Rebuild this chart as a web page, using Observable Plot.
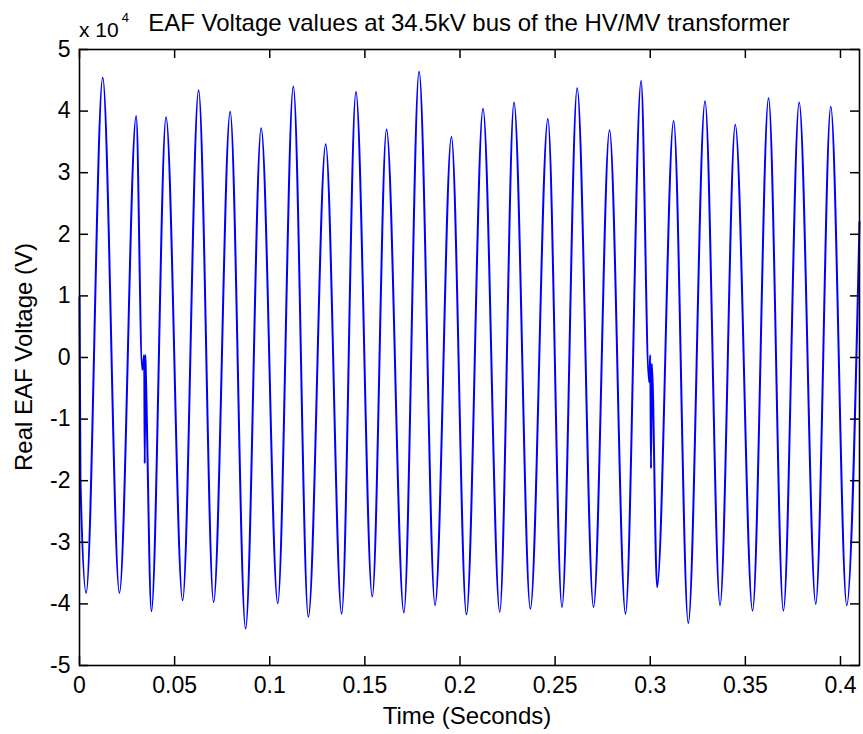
<!DOCTYPE html>
<html>
<head>
<meta charset="utf-8">
<script src="https://cdn.jsdelivr.net/npm/d3@7"></script>
<script src="https://cdn.jsdelivr.net/npm/@observablehq/plot@0.6"></script>
<style>
  html, body { margin: 0; padding: 0; background: #ffffff; }
  #chart svg { display: block; }
</style>
</head>
<body>
<div id="chart"></div>
<script>
// ---- Data (time in seconds, voltage in volts) ----
const startTimes = [0, 0.0005];
const startVolts = [9800, -20000];

const peakTimes = [0.0122, 0.0298, 0.0455, 0.0626, 0.0792, 0.0955, 0.1124, 0.1294, 0.1453, 0.1614, 0.1785, 0.1955,
                   0.2121, 0.2284, 0.2462, 0.2616, 0.2786, 0.2952, 0.3123, 0.3288, 0.3447, 0.3622, 0.3783, 0.3949];
const peakVolts = [45400, 39200, 39000, 43400, 39900, 37200, 44000, 34600, 43100, 37000, 46400, 35800,
                   40400, 41400, 38700, 43700, 36900, 44900, 38400, 41600, 37800, 42100, 41400, 40700];

const troughTimes = [0.0035, 0.0210, 0.0378, 0.0542, 0.0705, 0.0873, 0.1042, 0.1203, 0.1378, 0.1539, 0.1705, 0.1869,
                     0.2034, 0.2209, 0.2370, 0.2536, 0.2702, 0.2870, 0.3036, 0.3200, 0.3367, 0.3538, 0.3700, 0.3870, 0.4033];
const troughVolts = [-38200, -38200, -41200, -39400, -39700, -44000, -39900, -42100, -41600, -38800, -41400, -40200,
                     -41700, -41300, -40800, -40500, -40500, -41600, -37300, -43100, -40200, -41100, -41100, -40000, -40200];

const glitchTimes = [0.0330, 0.0340, 0.0343, 0.0346, 0.0349, 0.2994, 0.3000, 0.3004, 0.3008];
const glitchVolts = [-2000, 400, -17200, 400, -3000, -4000, 400, -18000, -1000];

const endTimes = [0.41];
const endVolts = [22000];

const xTicks = [0, 0.05, 0.1, 0.15, 0.2, 0.25, 0.3, 0.35, 0.4];
const xTickLabels = ["0", "0.05", "0.1", "0.15", "0.2", "0.25", "0.3", "0.35", "0.4"];
const yTicks = [-50000, -40000, -30000, -20000, -10000, 0, 10000, 20000, 30000, 40000, 50000];
const yTickLabels = ["-5", "-4", "-3", "-2", "-1", "0", "1", "2", "3", "4", "5"];

const titleText = "EAF Voltage values at 34.5kV bus of the HV/MV transformer";
const xLabelText = "Time (Seconds)";
const yLabelText = "Real EAF Voltage (V)";

// ---- Build the table ----
function pairs(ts, vs) { return ts.map((t, i) => ({t, v: vs[i]})); }
const samples = [
  ...pairs(startTimes, startVolts),
  ...pairs(peakTimes, peakVolts),
  ...pairs(troughTimes, troughVolts),
  ...pairs(glitchTimes, glitchVolts),
  ...pairs(endTimes, endVolts)
].sort((a, b) => a.t - b.t);

const W = 863, H = 734;
const ML = 79, MR = 4, MT = 49, MB = 69;
const FW = W - ML - MR, FH = H - MT - MB;
const X0 = 0, X1 = 0.41, Y0 = -50000, Y1 = 50000;
const TICK = 9;                                  // tick length in pixels
const tickDX = (X1 - X0) * TICK / FW;            // same length in x units
const tickDY = (Y1 - Y0) * TICK / FH;            // same length in y units
const FONT = "'Liberation Sans', Arial, Helvetica, sans-serif";
const xFmt = d => xTickLabels[xTicks.indexOf(d)];
const yFmt = d => yTickLabels[yTicks.indexOf(d)];

const plot = Plot.plot({
  width: W,
  height: H,
  marginLeft: ML, marginRight: MR, marginTop: MT, marginBottom: MB,
  style: {fontFamily: FONT, fontSize: "23px", color: "black", background: "white", overflow: "visible"},
  x: {domain: [X0, X1], label: null},
  y: {domain: [Y0, Y1], label: null},
  marks: [
    Plot.line(samples, {x: "t", y: "v", stroke: "#0000ff", strokeWidth: 2, curve: "monotone-x"}),
    // inward ticks on all four sides (MATLAB box style)
    Plot.ruleX(xTicks, {x: d => d, y1: Y0, y2: Y0 + tickDY, stroke: "black", strokeWidth: 1.5}),
    Plot.ruleX(xTicks, {x: d => d, y1: Y1, y2: Y1 - tickDY, stroke: "black", strokeWidth: 1.5}),
    Plot.ruleY(yTicks, {y: d => d, x1: X0, x2: X0 + tickDX, stroke: "black", strokeWidth: 1.5}),
    Plot.ruleY(yTicks, {y: d => d, x1: X1, x2: X1 - tickDX, stroke: "black", strokeWidth: 1.5}),
    Plot.frame({stroke: "black", strokeWidth: 1.6}),
    Plot.axisX({anchor: "bottom", ticks: xTicks, tickSize: 0, tickPadding: 11, tickFormat: xFmt, label: null}),
    Plot.axisY({anchor: "left", ticks: yTicks, tickSize: 0, tickPadding: 9, tickFormat: yFmt, label: null})
  ]
});

const svg = d3.select(plot);

svg.append("text")
  .attr("x", 469).attr("y", 31)
  .attr("text-anchor", "middle")
  .attr("font-family", FONT).attr("font-size", 24).attr("fill", "black")
  .text(titleText);

const exp = svg.append("text")
  .attr("x", 79).attr("y", 37)
  .attr("text-anchor", "start")
  .attr("font-family", FONT).attr("font-size", 21).attr("fill", "black");
exp.append("tspan").text("x 10");
exp.append("tspan").attr("dy", -15).attr("dx", 3).attr("font-size", 13).text("4");

svg.append("text")
  .attr("x", 467).attr("y", 724)
  .attr("text-anchor", "middle")
  .attr("font-family", FONT).attr("font-size", 24).attr("fill", "black")
  .text(xLabelText);

svg.append("text")
  .attr("transform", "translate(32,357) rotate(-90)")
  .attr("text-anchor", "middle")
  .attr("font-family", FONT).attr("font-size", 24).attr("fill", "black")
  .text(yLabelText);

document.getElementById("chart").appendChild(plot);
</script>
</body>
</html>
